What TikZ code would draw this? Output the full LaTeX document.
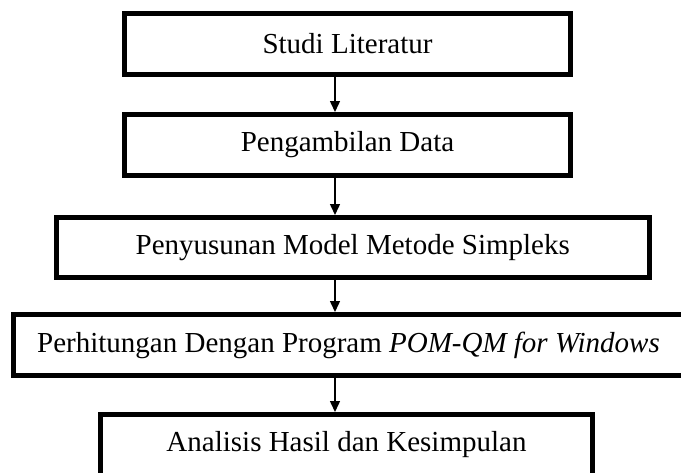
\documentclass[tikz,border=0pt]{standalone}
\usepackage{fontspec}
\setmainfont{Liberation Serif}
\usetikzlibrary{arrows.meta}
\begin{document}
\begin{tikzpicture}[x=1pt,y=-1pt,
  stepbox/.style={draw=black,line width=5pt,rectangle,inner sep=0pt,
    font=\fontsize{29}{32}\selectfont,text=black},
  arr/.style={line width=1.5pt,-{Triangle[width=10pt,length=11pt]}}]
\useasboundingbox (0,0) rectangle (681,472);
\clip (0,0) rectangle (681,472);
\fill[white] (0,0) rectangle (681,472);
\node[stepbox,minimum width=446pt,minimum height=60.5pt] (b1) at (347.5,43.75) {Studi Literatur};
\node[stepbox,minimum width=446pt,minimum height=61pt] (b2) at (347.5,145) {Pengambilan Data};
\node[stepbox,minimum width=593.5pt,minimum height=60pt] (b3) at (352.75,247.5) {Penyusunan Model Metode Simpleks};
\node[stepbox,minimum width=671pt,minimum height=61pt] (b4) at (348.5,345) {Perhitungan Dengan Program \textit{POM-QM for Windows}};
\node[stepbox,minimum width=492pt,minimum height=61pt] (b5) at (346.5,445) {Analisis Hasil dan Kesimpulan};
\coordinate (ax) at (335,0);
\draw[arr] (b1.south -| ax) -- (b2.north -| ax);
\draw[arr] (b2.south -| ax) -- (b3.north -| ax);
\draw[arr] (b3.south -| ax) -- (b4.north -| ax);
\draw[arr] (b4.south -| ax) -- (b5.north -| ax);
\end{tikzpicture}
\end{document}
